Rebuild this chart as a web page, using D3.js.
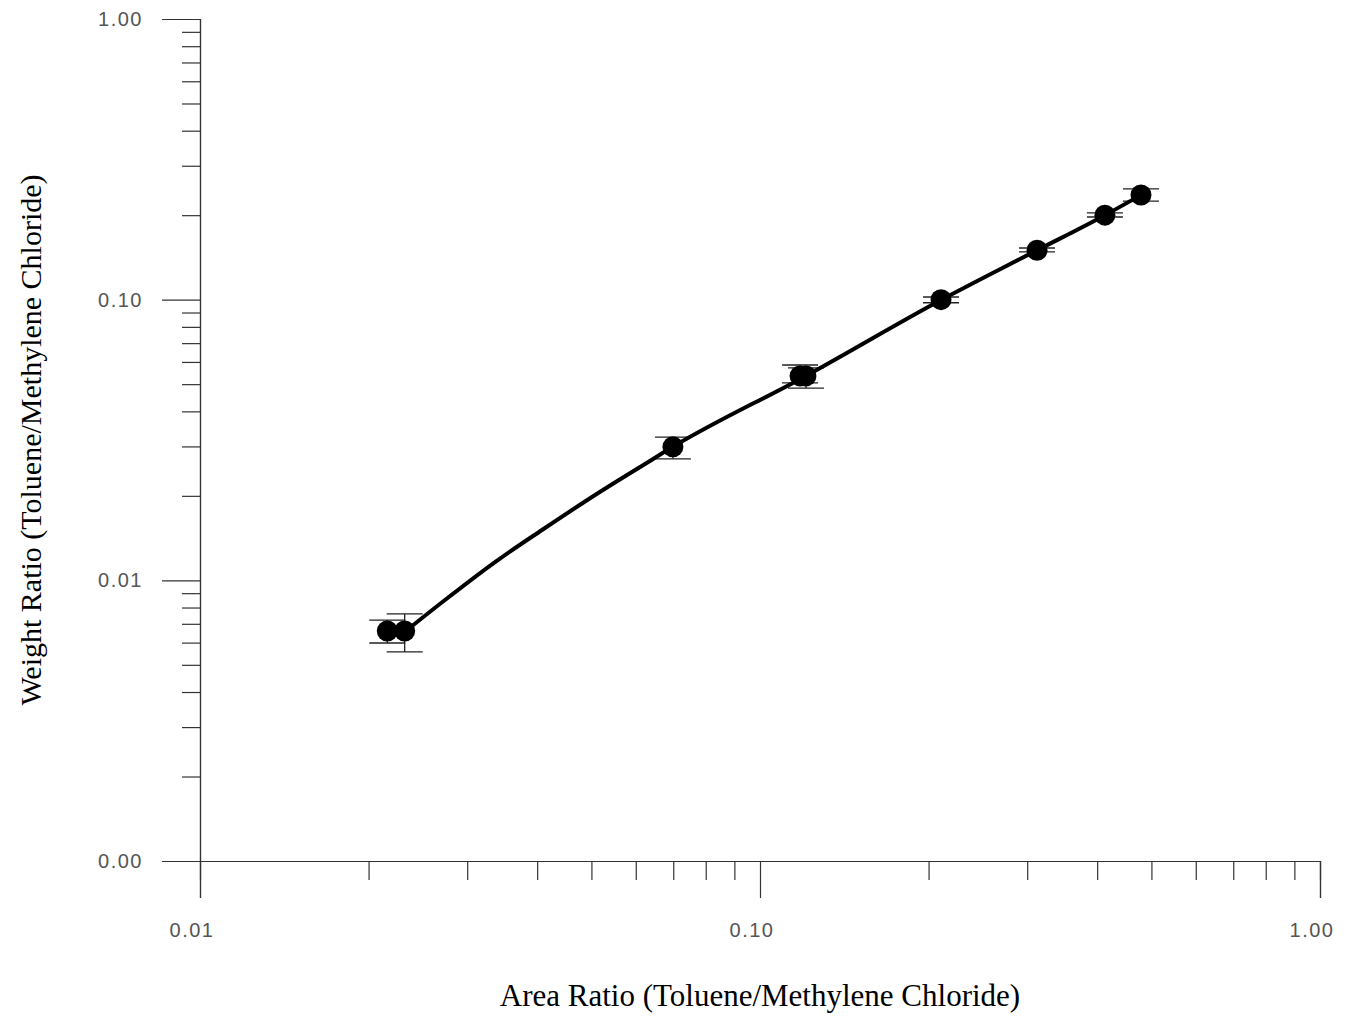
<!DOCTYPE html>
<html>
<head>
<meta charset="utf-8">
<script src="https://cdn.jsdelivr.net/npm/d3@7"></script>
<style>
  html, body { margin: 0; padding: 0; background: #fff; }
  svg { display: block; }
  .tick-label { font-family: "Liberation Sans", Arial, sans-serif; font-size: 20px; fill: #555; letter-spacing: 1.5px; }
  .title { font-family: "Liberation Serif", "Times New Roman", serif; font-size: 31px; fill: #000; }
</style>
</head>
<body>
<svg id="chart" width="1352" height="1017"></svg>
<script>
// ---- data ----
const areaRatio   = [0.0216, 0.0232, 0.0699, 0.1179, 0.1208, 0.2105, 0.3124, 0.413, 0.479];
const weightRatio = [0.0066, 0.0066, 0.0299, 0.0535, 0.0535, 0.100, 0.150, 0.200, 0.236];
const errHigh     = [0.00722, 0.00759, 0.0324, 0.0585, 0.0571, 0.1022, 0.1528, 0.2037, 0.248];
const errLow      = [0.00598, 0.00556, 0.0271, 0.0505, 0.0484, 0.0975, 0.1479, 0.197, 0.2246];

// fitted calibration curve
const fitX = [0.0232, 0.02738, 0.03364, 0.04131, 0.05076, 0.06232, 0.0699, 0.1208, 0.2105, 0.3124, 0.413, 0.479];
const fitY = [0.00655, 0.00851, 0.01162, 0.01536, 0.02014, 0.02597, 0.0299, 0.0535, 0.0997, 0.150, 0.200, 0.236];

const xMajorTicks = [0.01, 0.1, 1];
const xMajorLabels = ["0.01", "0.10", "1.00"];
const yMajorTicks = [1, 0.1, 0.01, 0.001];
const yMajorLabels = ["1.00", "0.10", "0.01", "0.00"];
const minorMultipliers = [2, 3, 4, 5, 6, 7, 8, 9];

const xTitle = "Area Ratio (Toluene/Methylene Chloride)";
const yTitle = "Weight Ratio (Toluene/Methylene Chloride)";

// ---- layout ----
const svg = d3.select("#chart");
const x = d3.scaleLog().domain([0.01, 1]).range([200, 1320]);
const y = d3.scaleLog().domain([0.001, 1]).range([861, 19]);

const xMinor = [];
[0.01, 0.1].forEach(b => minorMultipliers.forEach(m => xMinor.push(b * m)));
const yMinor = [];
[0.001, 0.01, 0.1].forEach(b => minorMultipliers.forEach(m => yMinor.push(b * m)));

const axisColor = "#333";

// X axis
const gx = svg.append("g").attr("transform", `translate(0,${y(0.001)})`);
gx.call(d3.axisBottom(x).tickValues(xMinor).tickSize(19).tickFormat(""));
gx.call(g => g.append("g").call(d3.axisBottom(x).tickValues(xMajorTicks).tickSize(37).tickFormat("")));
gx.selectAll(".domain").attr("stroke", axisColor).attr("stroke-width", 1.2);
gx.selectAll(".tick line").attr("stroke", axisColor).attr("stroke-width", 1.2);
gx.selectAll(".xlabel").data(xMajorTicks).enter().append("text")
  .attr("class", "tick-label")
  .attr("x", d => x(d) - 8)
  .attr("y", 937)
  .attr("text-anchor", "middle")
  .text((d, i) => xMajorLabels[i])
  .attr("transform", `translate(0,${-y(0.001)})`);

// Y axis
const gy = svg.append("g").attr("transform", `translate(${x(0.01)},0)`);
gy.call(d3.axisLeft(y).tickValues(yMinor).tickSize(18).tickFormat(""));
gy.call(g => g.append("g").call(d3.axisLeft(y).tickValues(yMajorTicks).tickSize(38).tickFormat("")));
gy.selectAll(".domain").attr("stroke", axisColor).attr("stroke-width", 1.2);
gy.selectAll(".tick line").attr("stroke", axisColor).attr("stroke-width", 1.2);
gy.selectAll(".ylabel").data(yMajorTicks).enter().append("text")
  .attr("class", "tick-label")
  .attr("x", -57)
  .attr("y", d => y(d))
  .attr("dy", "0.35em")
  .attr("text-anchor", "end")
  .text((d, i) => yMajorLabels[i]);

// Axis titles
svg.append("text").attr("class", "title")
  .attr("x", 760).attr("y", 1006)
  .attr("text-anchor", "middle")
  .text(xTitle);
svg.append("text").attr("class", "title")
  .style("font-size", "30px")
  .attr("transform", "translate(41,440) rotate(-90)")
  .attr("text-anchor", "middle")
  .text(yTitle);

// Error bars
const pts = areaRatio.map((a, i) => ({x: a, y: weightRatio[i], hi: errHigh[i], lo: errLow[i]}));
const capW = 18;
const eb = svg.append("g").attr("stroke", "#222").attr("stroke-width", 1.3);
eb.selectAll(".ev").data(pts).enter().append("line")
  .attr("x1", d => x(d.x)).attr("x2", d => x(d.x))
  .attr("y1", d => y(d.hi)).attr("y2", d => y(d.lo));
eb.selectAll(".ch").data(pts).enter().append("line")
  .attr("x1", d => x(d.x) - capW).attr("x2", d => x(d.x) + capW)
  .attr("y1", d => y(d.hi)).attr("y2", d => y(d.hi));
eb.selectAll(".cl").data(pts).enter().append("line")
  .attr("x1", d => x(d.x) - capW).attr("x2", d => x(d.x) + capW)
  .attr("y1", d => y(d.lo)).attr("y2", d => y(d.lo));

// Fit curve
const fit = fitX.map((v, i) => [v, fitY[i]]);
svg.append("path")
  .datum(fit)
  .attr("fill", "none")
  .attr("stroke", "#000")
  .attr("stroke-width", 4)
  .attr("stroke-linecap", "round")
  .attr("d", d3.line().x(d => x(d[0])).y(d => y(d[1])).curve(d3.curveMonotoneX));

// Points
svg.append("g").selectAll("circle").data(pts).enter().append("circle")
  .attr("cx", d => x(d.x)).attr("cy", d => y(d.y))
  .attr("r", 10.5)
  .attr("fill", "#000");
</script>
</body>
</html>
